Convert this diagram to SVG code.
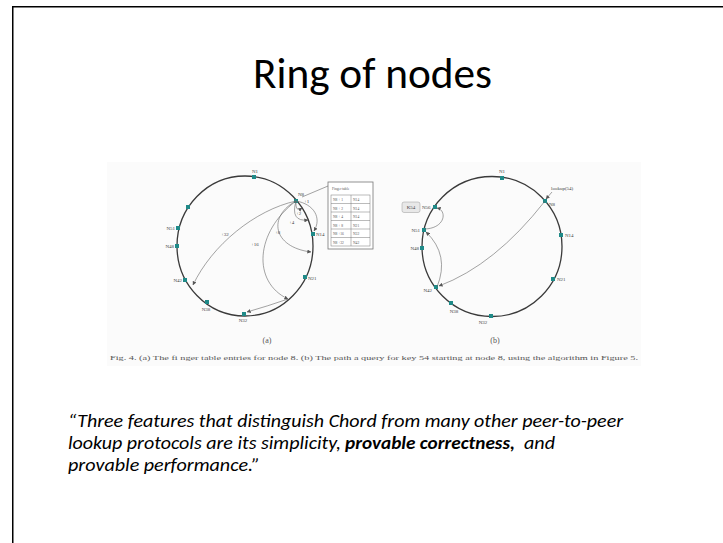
<svg xmlns="http://www.w3.org/2000/svg" xmlns:xlink="http://www.w3.org/1999/xlink" width="723" height="543" viewBox="0 0 723 543">
<style>
.ring{fill:none;stroke:#3a3a3a;stroke-width:1.3}
.edge{fill:none;stroke:#666;stroke-width:0.6}
.lbl{font-family:"Liberation Serif",serif;font-size:5px;fill:#444}
.tiny{font-family:"Liberation Serif",serif;font-size:3.6px;fill:#555}
.cap{font-family:"Liberation Serif",serif;fill:#555}
.quote{font-family:Carlito,Lato,"Open Sans",sans-serif;font-size:18px;font-style:italic;fill:#000}
</style>
<defs>
<rect id="dot" x="-2" y="-2" width="4" height="4" fill="#1f8a88"/>
<marker id="ah" viewBox="0 0 6 6" refX="5.5" refY="3" markerWidth="4" markerHeight="4" markerUnits="userSpaceOnUse" orient="auto">
<path d="M0,0 L6,3 L0,6 z" fill="#555"/>
</marker>
</defs>
<rect width="723" height="543" fill="#fff"/>
<path d="M12.75,543 V6.75 H723" fill="none" stroke="#000" stroke-width="1.5"/>
<g id="title">
<text x="253" y="88" font-family="Carlito,Lato,'Open Sans',sans-serif" font-size="44" fill="#000" textLength="239" lengthAdjust="spacingAndGlyphs">Ring of nodes</text>
</g>
<rect x="107" y="162" width="534" height="204" fill="#fbfbfb"/>
<g id="ringA">
<ellipse class="ring" cx="245" cy="246" rx="68" ry="70"/>
<use xlink:href="#dot" x="254" y="177"/>
<use xlink:href="#dot" x="296" y="201"/>
<use xlink:href="#dot" x="313" y="234"/>
<use xlink:href="#dot" x="305" y="277"/>
<use xlink:href="#dot" x="244" y="314"/>
<use xlink:href="#dot" x="207" y="302"/>
<use xlink:href="#dot" x="185" y="280"/>
<use xlink:href="#dot" x="177" y="246"/>
<use xlink:href="#dot" x="178" y="228"/>
<use xlink:href="#dot" x="188" y="207"/>
<text class="lbl" x="255" y="173" text-anchor="middle">N1</text>
<text class="lbl" x="298" y="196">N8</text>
<text class="lbl" x="316" y="236">N14</text>
<text class="lbl" x="308" y="280">N21</text>
<text class="lbl" x="243" y="322" text-anchor="middle">N32</text>
<text class="lbl" x="206" y="311" text-anchor="middle">N38</text>
<text class="lbl" x="182" y="282" text-anchor="end">N42</text>
<text class="lbl" x="174" y="248" text-anchor="end">N48</text>
<text class="lbl" x="175" y="230" text-anchor="end">N51</text>
<text class="lbl" x="304" y="203">+1</text>
<text class="lbl" x="296" y="215">+2</text>
<text class="lbl" x="289" y="224">+4</text>
<text class="lbl" x="275" y="234">+8</text>
<text class="lbl" x="251" y="246">+16</text>
<text class="lbl" x="221" y="236">+32</text>
</g>
<g id="fingerTable">
<rect x="328" y="182" width="45" height="67" fill="#fff" stroke="#777" stroke-width="0.8"/>
<text class="tiny" x="332" y="190">Finger table</text>
<rect x="331" y="195" width="39" height="51" fill="#fff" stroke="#777" stroke-width="0.5"/>
<path d="M331,203.5 H370 M331,212 H370 M331,220.5 H370 M331,229 H370 M331,237.5 H370 M351,195 V246" stroke="#777" stroke-width="0.5"/>
<text class="tiny" x="333" y="201">N8 + 1</text><text class="tiny" x="353" y="201">N14</text>
<text class="tiny" x="333" y="209.5">N8 + 2</text><text class="tiny" x="353" y="209.5">N14</text>
<text class="tiny" x="333" y="218">N8 + 4</text><text class="tiny" x="353" y="218">N14</text>
<text class="tiny" x="333" y="226.5">N8 + 8</text><text class="tiny" x="353" y="226.5">N21</text>
<text class="tiny" x="333" y="235">N8 +16</text><text class="tiny" x="353" y="235">N32</text>
<text class="tiny" x="333" y="243.5">N8 +32</text><text class="tiny" x="353" y="243.5">N42</text>
</g>
<g id="ringB">
<ellipse class="ring" cx="492" cy="246.5" rx="70" ry="70"/>
<use xlink:href="#dot" x="502" y="178"/>
<use xlink:href="#dot" x="545" y="201"/>
<use xlink:href="#dot" x="561" y="235"/>
<use xlink:href="#dot" x="553" y="279"/>
<use xlink:href="#dot" x="491" y="316"/>
<use xlink:href="#dot" x="451" y="303"/>
<use xlink:href="#dot" x="436" y="287"/>
<use xlink:href="#dot" x="422" y="248"/>
<use xlink:href="#dot" x="424" y="230"/>
<use xlink:href="#dot" x="435" y="207"/>
<text class="lbl" x="502" y="173" text-anchor="middle">N1</text>
<text class="lbl" x="549" y="206">N8</text>
<text class="lbl" x="565" y="237">N14</text>
<text class="lbl" x="557" y="281">N21</text>
<text class="lbl" x="483" y="324" text-anchor="middle">N32</text>
<text class="lbl" x="454" y="313" text-anchor="middle">N38</text>
<text class="lbl" x="432" y="292" text-anchor="end">N42</text>
<text class="lbl" x="419" y="250" text-anchor="end">N48</text>
<text class="lbl" x="420" y="232" text-anchor="end">N51</text>
<text class="lbl" x="422" y="209">N56</text>
<text class="lbl" x="551" y="190">lookup(54)</text>
<rect x="402" y="202" width="18" height="10.5" rx="2" fill="#e8e8e8" stroke="#999" stroke-width="0.5"/>
<text class="lbl" x="411" y="209" text-anchor="middle">K54</text>
</g>
<g id="connectors">
<path class="edge" d="M296,201 C255,210 212,245 193,285" marker-end="url(#ah)"/>
<path class="edge" d="M296,201 C255,232 252,282 288,299" marker-end="url(#ah)"/>
<path class="edge" d="M288,299 Q268,306 247,312" marker-end="url(#ah)"/>
<path class="edge" d="M296,201 C268,216 272,247 311,252" marker-end="url(#ah)"/>
<path class="edge" d="M296,201 Q290,222 308,220" marker-end="url(#ah)"/>
<path class="edge" d="M296,201 Q295,213 302,208" marker-end="url(#ah)"/>
<path class="edge" d="M296,201 C314,204 322,218 314,231" marker-end="url(#ah)"/>
<path class="edge" d="M302,197 L328,186"/>
<path class="edge" d="M545,201 Q495,265 439,286" marker-end="url(#ah)"/>
<path class="edge" d="M437,287 Q450,255 426,232" marker-end="url(#ah)"/>
<path class="edge" d="M425,229 C446,228 447,210 437,208" marker-end="url(#ah)"/>
<path class="edge" d="M552,192 L546,199" marker-end="url(#ah)"/>
</g>
<g id="caption">
<text class="cap" x="267" y="343" font-size="8" text-anchor="middle">(a)</text>
<text class="cap" x="495" y="343" font-size="8" text-anchor="middle">(b)</text>
<text class="cap" x="110" y="360" font-size="6" textLength="528" lengthAdjust="spacingAndGlyphs">Fig. 4.  (a) The fi nger table entries for node 8. (b) The path a query for key 54 starting at node 8, using the algorithm in Figure 5.</text>
</g>
<g id="quote">
<text class="quote" x="68" y="427" textLength="555" lengthAdjust="spacingAndGlyphs">“Three features that distinguish Chord from many other peer-to-peer</text>
<text class="quote" y="449"><tspan x="68" textLength="273" lengthAdjust="spacingAndGlyphs">lookup protocols are its simplicity,</tspan><tspan x="345" font-weight="bold" textLength="170" lengthAdjust="spacingAndGlyphs">provable correctness,</tspan><tspan x="524" textLength="31" lengthAdjust="spacingAndGlyphs">and</tspan></text>
<text class="quote" x="68" y="471" textLength="192" lengthAdjust="spacingAndGlyphs">provable performance.”</text>
</g>
</svg>
